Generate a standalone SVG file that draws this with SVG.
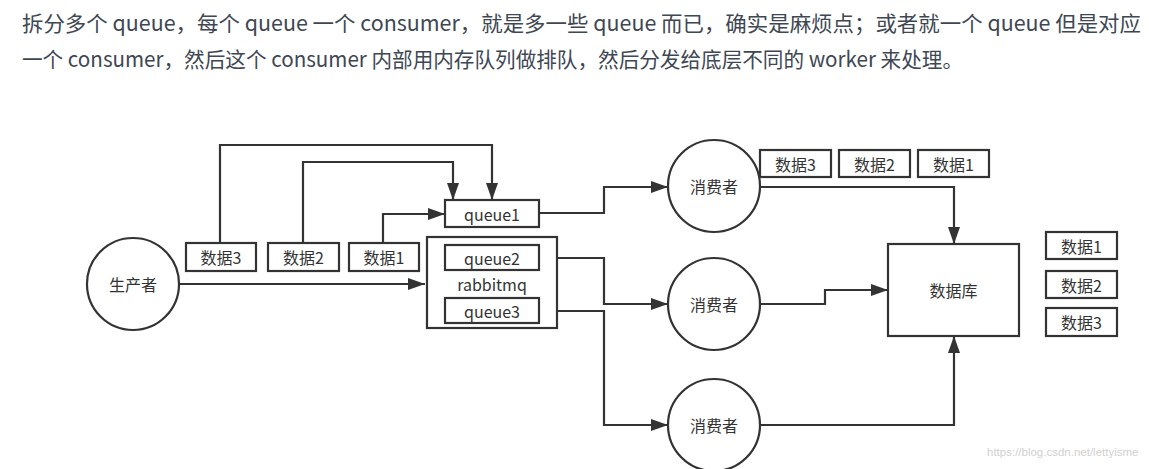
<svg xmlns="http://www.w3.org/2000/svg" width="1149" height="469" viewBox="0 0 1149 469">
<style>
.para{font-family:"Noto Sans CJK SC","Noto Sans",sans-serif;font-size:21px;fill:#3e4753}
.lbl{font-family:"Noto Sans CJK SC","Liberation Sans",sans-serif;font-size:16px;fill:#333;text-anchor:middle;dominant-baseline:central}
.shape{fill:#fff;stroke:#333;stroke-width:2.200}
.conn{fill:none;stroke:#333;stroke-width:2.200}
.wm{font-family:"Liberation Sans",sans-serif;font-size:11.500px;fill:#d0d0d0}
</style>
<defs>
<marker id="arr" markerUnits="userSpaceOnUse" markerWidth="18" markerHeight="12" refX="17" refY="6" orient="auto">
<path d="M0,0 L17,6 L0,12 Z" fill="#333"/>
</marker>
</defs>
<rect width="1149" height="469" fill="#fff"/>
<text class="para" x="22" y="31" textLength="1119" lengthAdjust="spacingAndGlyphs">拆分多个 queue，每个 queue 一个 consumer，就是多一些 queue 而已，确实是麻烦点；或者就一个 queue 但是对应</text>
<text class="para" x="22" y="67" textLength="941" lengthAdjust="spacingAndGlyphs">一个 consumer，然后这个 consumer 内部用内存队列做排队，然后分发给底层不同的 worker 来处理。</text>

<g id="connectors">
<path class="conn" d="M180,284 H425" marker-end="url(#arr)"/>
<path class="conn" d="M220,243 V145 H492 V200" marker-end="url(#arr)"/>
<path class="conn" d="M303,243 V162 H453 V200" marker-end="url(#arr)"/>
<path class="conn" d="M383,243 V214 H445" marker-end="url(#arr)"/>
<path class="conn" d="M539,213 H604 V187 H668" marker-end="url(#arr)"/>
<path class="conn" d="M539,258 H604 V304 H668" marker-end="url(#arr)"/>
<path class="conn" d="M539,311 H604 V425 H668" marker-end="url(#arr)"/>
<path class="conn" d="M760,187 H954 V244" marker-end="url(#arr)"/>
<path class="conn" d="M760,304 H825 V290 H888" marker-end="url(#arr)"/>
<path class="conn" d="M760,425 H954 V336" marker-end="url(#arr)"/>
</g>

<g id="producer"><circle class="shape" cx="133" cy="284" r="46"/><text class="lbl" x="133" y="284">生产者</text></g>
<g id="p-data3"><rect class="shape" x="186" y="243" width="70" height="28"/><text class="lbl" x="221" y="257">数据3</text></g>
<g id="p-data2"><rect class="shape" x="268" y="243" width="71" height="28"/><text class="lbl" x="303.500" y="257">数据2</text></g>
<g id="p-data1"><rect class="shape" x="349" y="243" width="70" height="28"/><text class="lbl" x="384" y="257">数据1</text></g>
<g id="queue1"><rect class="shape" x="445" y="200" width="94" height="27"/><text class="lbl" x="492" y="213.500">queue1</text></g>
<g id="rabbitmq"><rect class="shape" x="427" y="237" width="130" height="91"/><text class="lbl" x="492" y="284">rabbitmq</text></g>
<g id="queue2"><rect class="shape" x="445" y="245" width="94" height="25"/><text class="lbl" x="492" y="257.500">queue2</text></g>
<g id="queue3"><rect class="shape" x="445" y="298" width="94" height="25"/><text class="lbl" x="492" y="310.500">queue3</text></g>
<g id="consumer1"><circle class="shape" cx="714" cy="186" r="46"/><text class="lbl" x="714" y="186">消费者</text></g>
<g id="consumer2"><circle class="shape" cx="714" cy="304" r="46"/><text class="lbl" x="714" y="304">消费者</text></g>
<g id="consumer3"><circle class="shape" cx="714" cy="425" r="46"/><text class="lbl" x="714" y="425">消费者</text></g>
<g id="c-data3"><rect class="shape" x="760" y="150" width="71" height="27"/><text class="lbl" x="795.500" y="163.500">数据3</text></g>
<g id="c-data2"><rect class="shape" x="839" y="150" width="71" height="27"/><text class="lbl" x="874.500" y="163.500">数据2</text></g>
<g id="c-data1"><rect class="shape" x="918" y="150" width="71" height="27"/><text class="lbl" x="953.500" y="163.500">数据1</text></g>
<g id="database"><rect class="shape" x="888" y="244" width="131" height="92"/><text class="lbl" x="953.500" y="290">数据库</text></g>
<g id="d-data1"><rect class="shape" x="1046" y="232" width="71" height="27"/><text class="lbl" x="1081.500" y="245.500">数据1</text></g>
<g id="d-data2"><rect class="shape" x="1046" y="271" width="71" height="27"/><text class="lbl" x="1081.500" y="284.500">数据2</text></g>
<g id="d-data3"><rect class="shape" x="1046" y="308" width="71" height="28"/><text class="lbl" x="1081.500" y="322">数据3</text></g>
<text class="wm" x="987" y="456">https://blog.csdn.net/lettyisme</text>
</svg>
